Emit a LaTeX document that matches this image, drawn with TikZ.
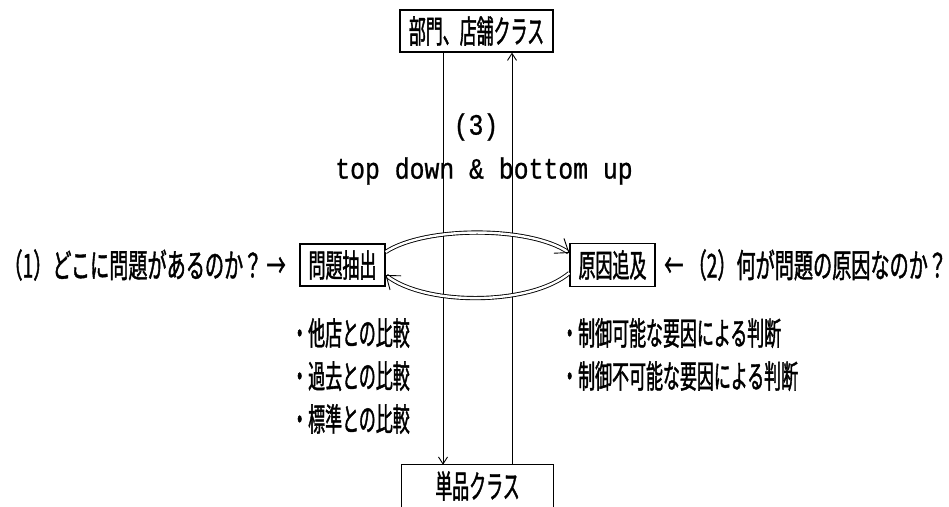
\documentclass[tikz,border=0pt]{standalone}
\usepackage{fontspec}
\usetikzlibrary{arrows.meta}
\newfontfamily\cjk[FakeStretch=0.53,FakeBold=1.2]{Noto Sans CJK JP}
\newfontfamily\cjkq[FakeStretch=0.58,FakeBold=1.2]{Noto Sans CJK JP}
\newfontfamily\mono[FakeBold=0.8,FakeStretch=0.84]{Liberation Mono}
\tikzset{
  boxlabel/.style={inner sep=0pt, font=\cjk\fontsize{32}{32}\selectfont},
  framed/.style={boxlabel, draw, line width=1.2pt},
  question/.style={inner sep=0pt, font=\cjkq\fontsize{33}{33}\selectfont},
  monotext/.style={inner sep=0pt, font=\mono\fontsize{29.5}{29.5}\selectfont},
  bullets/.style={inner sep=0pt, align=left, font=\cjk\fontsize{32}{43}\selectfont},
  vline/.style={line width=0.9pt, -{Straight Barb[length=7pt,width=9pt]}},
  dbl/.style={double, double distance=2.4pt, line width=0.9pt, -{Straight Barb[length=12pt,width=18pt,line width=0.9pt]}}
}
\begin{document}
\begin{tikzpicture}[x=1pt,y=-1pt]
\useasboundingbox (0,0) rectangle (949,506);
\fill[white] (0,0) rectangle (949,506);

\node[framed, minimum width=153pt, minimum height=42pt] (top) at (476.5,31) {部門、店舗クラス};
\node[boxlabel, minimum width=151pt, minimum height=42pt] (bot) at (477.5,486) {単品クラス};
\draw[line width=1.2pt] (bot.south west) -- (bot.north west) -- (bot.north east) -- (bot.south east);

\node[framed, minimum width=85pt, minimum height=42pt] (pb) at (342.5,265) {問題抽出};
\node[framed, minimum width=85pt, minimum height=43pt] (rb) at (612.5,265) {原因追及};

\node[monotext] (n3) at (476,127) {(3)};
\node[monotext] (tdbu) at (484,171) {top down \& bottom up};

\node[question, anchor=east] (q1) at (286,265) {（1）どこに問題があるのか？ →};
\node[question, anchor=west] (q2) at (664,265) {← （2）何が問題の原因なのか？};

\node[bullets, anchor=north west] (bl) at (291,318) {・他店との比較\\・過去との比較\\・標準との比較};
\node[bullets, anchor=north west] (br) at (561,318) {・制御可能な要因による判断\\・制御不可能な要因による判断};

\draw[vline] ([xshift=-33.5pt]top.south) -- ([xshift=-33.5pt]top.south |- bot.north);
\draw[vline] ([xshift=34.5pt]bot.north) -- ([xshift=34.5pt]bot.north |- top.south);

\draw[dbl] ([yshift=13pt]pb.east) .. controls (425,226) and (530,226) .. ([yshift=12pt]rb.west);
\draw[dbl] ([yshift=-8pt]rb.west) .. controls (530,306) and (425,306) .. ([yshift=-10pt]pb.east);
\end{tikzpicture}
\end{document}
